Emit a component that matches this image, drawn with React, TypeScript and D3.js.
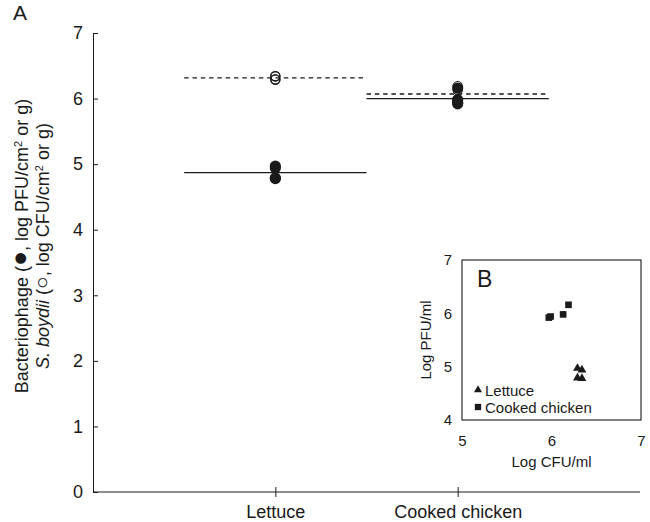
import { axisBottom, axisLeft, mean, scaleLinear, scalePoint, select, symbol, symbolSquare, symbolTriangle } from "d3";
import { useEffect, useRef } from "react";

// foods on the main x axis
const categories = ["Lettuce", "Cooked chicken"];
// paired samples: log CFU (S. boydii) and log PFU (phage)
const lettuceCFU = [6.29, 6.34, 6.29, 6.34];
const lettucePFU = [4.97, 4.94, 4.79, 4.78];
const chickenCFU = [5.97, 5.99, 6.13, 6.19];
const chickenPFU = [5.92, 5.94, 5.98, 6.16];

const mainYTicks = [0, 1, 2, 3, 4, 5, 6, 7];
const insetXTicks = [5, 6, 7];
const insetYTicks = [4, 5, 6, 7];

const FONT = "'Liberation Sans', Arial, sans-serif";
const INK = "#1a1a1a";

export default function App() {
  const svgRef = useRef<SVGSVGElement | null>(null);

  useEffect(() => {
    if (!svgRef.current) return;
    const svg = select(svgRef.current);
    svg.selectAll("*").remove();

    const groups = [
      { name: categories[0], cfu: lettuceCFU, pfu: lettucePFU },
      { name: categories[1], cfu: chickenCFU, pfu: chickenPFU },
    ];

    // ---- main panel A ----
    const x = scalePoint<string>().domain(categories).range([93, 640]).padding(1);
    const y = scaleLinear().domain([0, 7]).range([492, 33]);
    const half = x.step() / 2;

    const yAxis = axisLeft(y)
      .tickValues(mainYTicks)
      .tickSizeInner(-5)
      .tickSizeOuter(0)
      .tickPadding(10)
      .tickFormat((d) => String(d));
    const yg = svg.append("g").attr("transform", `translate(93,0)`).call(yAxis);
    yg.selectAll("path,line").attr("stroke", INK);
    yg.selectAll("text").attr("font-family", FONT).attr("font-size", 18).attr("fill", INK);

    const xAxis = axisBottom(x).tickSizeInner(5).tickSizeOuter(0);
    const xg = svg.append("g").attr("transform", `translate(0,492)`).call(xAxis);
    xg.select(".domain").attr("d", "M93,0H640").attr("stroke", INK);
    xg.selectAll(".tick line").attr("y1", -5).attr("y2", 5).attr("stroke", INK);
    xg.selectAll("text").attr("font-family", FONT).attr("font-size", 18).attr("fill", INK).attr("y", 13);

    groups.forEach((g) => {
      const cx = x(g.name) ?? 0;
      const mPfu = mean(g.pfu) ?? 0;
      const mCfu = mean(g.cfu) ?? 0;
      svg
        .append("line")
        .attr("x1", cx - half)
        .attr("x2", cx + half)
        .attr("y1", y(mPfu))
        .attr("y2", y(mPfu))
        .attr("stroke", INK)
        .attr("stroke-width", 1.3);
      svg
        .append("line")
        .attr("x1", cx - half)
        .attr("x2", cx + half)
        .attr("y1", y(mCfu))
        .attr("y2", y(mCfu))
        .attr("stroke", INK)
        .attr("stroke-width", 1.3)
        .attr("stroke-dasharray", "4.5,3.8");
      g.cfu.forEach((v) => {
        svg
          .append("circle")
          .attr("cx", cx)
          .attr("cy", y(v))
          .attr("r", 4.6)
          .attr("fill", "none")
          .attr("stroke", INK)
          .attr("stroke-width", 1.2);
      });
      g.pfu.forEach((v) => {
        svg.append("circle").attr("cx", cx).attr("cy", y(v)).attr("r", 5.6).attr("fill", INK);
      });
    });

    svg
      .append("text")
      .attr("x", 13)
      .attr("y", 20)
      .attr("font-family", FONT)
      .attr("font-size", 21)
      .attr("fill", INK)
      .text("A");

    // y title, two lines
    const t1 = svg
      .append("text")
      .attr("transform", "translate(28,246) rotate(-90)")
      .attr("text-anchor", "middle")
      .attr("font-family", FONT)
      .attr("font-size", 18)
      .attr("fill", INK);
    t1.append("tspan").text("Bacteriophage (");
    t1.append("tspan").attr("font-size", 25).text("●");
    t1.append("tspan").text(", log PFU/cm");
    t1.append("tspan").attr("baseline-shift", "super").attr("font-size", 11).text("2");
    t1.append("tspan").text(" or g)");

    const t2 = svg
      .append("text")
      .attr("transform", "translate(49,246) rotate(-90)")
      .attr("text-anchor", "middle")
      .attr("font-family", FONT)
      .attr("font-size", 18)
      .attr("fill", INK);
    t2.append("tspan").attr("font-style", "italic").text("S. boydii");
    t2.append("tspan").text(" (");
    t2.append("tspan").attr("font-size", 21).text("○");
    t2.append("tspan").text(", log CFU/cm");
    t2.append("tspan").attr("baseline-shift", "super").attr("font-size", 11).text("2");
    t2.append("tspan").text(" or g)");

    // ---- inset panel B ----
    const ix = scaleLinear().domain([5, 7]).range([462, 641]);
    const iy = scaleLinear().domain([4, 7]).range([420, 260]);

    svg
      .append("rect")
      .attr("x", ix(5))
      .attr("y", iy(7))
      .attr("width", ix(7) - ix(5))
      .attr("height", iy(4) - iy(7))
      .attr("fill", "white")
      .attr("stroke", INK)
      .attr("stroke-width", 1.1);

    const ixg = svg
      .append("g")
      .attr("transform", `translate(0,${iy(4)})`)
      .call(axisBottom(ix).tickValues(insetXTicks).tickSize(0).tickPadding(15).tickFormat((d) => String(d)));
    ixg.select(".domain").remove();
    ixg.selectAll("text").attr("font-family", FONT).attr("font-size", 15).attr("fill", INK);

    const iyg = svg
      .append("g")
      .attr("transform", `translate(${ix(5)},0)`)
      .call(axisLeft(iy).tickValues(insetYTicks).tickSize(0).tickPadding(10).tickFormat((d) => String(d)));
    iyg.select(".domain").remove();
    iyg.selectAll("text").attr("font-family", FONT).attr("font-size", 15).attr("fill", INK);

    svg
      .append("text")
      .attr("x", (ix(5) + ix(7)) / 2)
      .attr("y", 467)
      .attr("text-anchor", "middle")
      .attr("font-family", FONT)
      .attr("font-size", 15)
      .attr("fill", INK)
      .text("Log CFU/ml");
    svg
      .append("text")
      .attr("transform", `translate(431,${(iy(4) + iy(7)) / 2}) rotate(-90)`)
      .attr("text-anchor", "middle")
      .attr("font-family", FONT)
      .attr("font-size", 15)
      .attr("fill", INK)
      .text("Log PFU/ml");

    svg
      .append("text")
      .attr("x", 477)
      .attr("y", 287)
      .attr("font-family", FONT)
      .attr("font-size", 23)
      .attr("fill", INK)
      .text("B");

    const tri = symbol().type(symbolTriangle).size(34);
    const sq = symbol().type(symbolSquare).size(44);
    groups.forEach((g, gi) => {
      g.cfu.forEach((c, i) => {
        svg
          .append("path")
          .attr("d", gi === 0 ? tri() : sq())
          .attr("transform", `translate(${ix(c)},${iy(g.pfu[i])})`)
          .attr("fill", INK);
      });
    });

    // legend
    const legend = [
      { label: categories[0], shape: symbol().type(symbolTriangle).size(28) },
      { label: categories[1], shape: symbol().type(symbolSquare).size(40) },
    ];
    legend.forEach((l, i) => {
      const ly = 390 + i * 17;
      svg
        .append("path")
        .attr("d", l.shape())
        .attr("transform", `translate(478,${ly})`)
        .attr("fill", INK);
      svg
        .append("text")
        .attr("x", 485)
        .attr("y", ly + 5.5)
        .attr("font-family", FONT)
        .attr("font-size", 15)
        .attr("fill", INK)
        .text(l.label);
    });
  }, []);

  return (
    <svg
      ref={svgRef}
      width={650}
      height={522}
      style={{ position: "absolute", left: 0, top: 0, background: "white" }}
    />
  );
}
